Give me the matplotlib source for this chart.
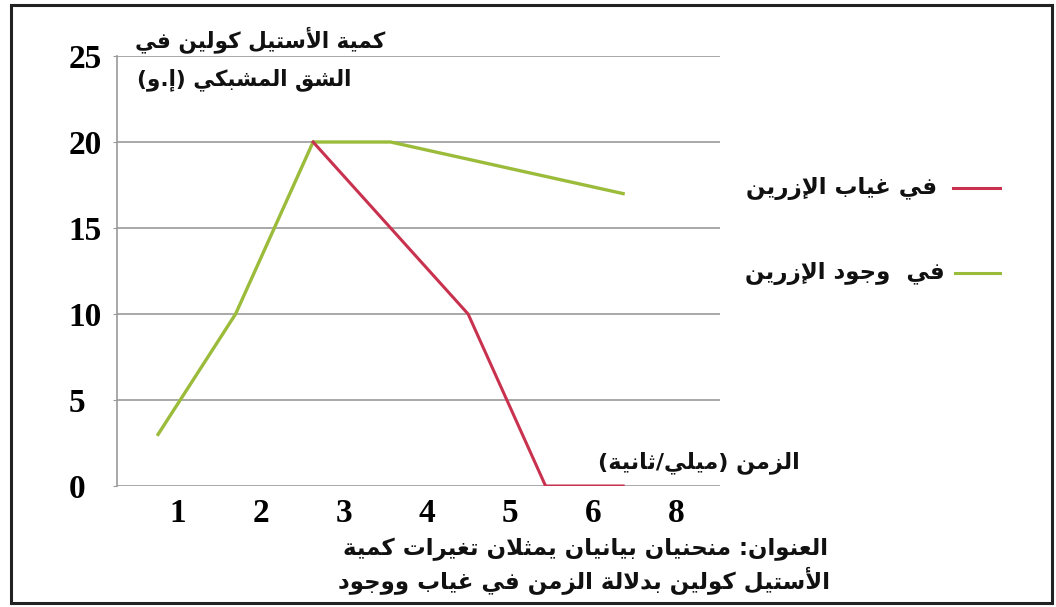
import matplotlib.pyplot as plt
from matplotlib.patches import Rectangle

# chart data
times = ['1', '2', '3', '4', '5', '6', '8']
with_ezrin = [3, 10, 20, 20, 19, 18, 17]      # green
without_ezrin = [None, None, 20, 15, 10, 0, 0]  # red

y_ticks = [0, 5, 10, 15, 20, 25]

ylabel_lines = ['كمية الأستيل كولين في', 'الشق المشبكي (إ.و)']
xlabel = 'الزمن (ميلي/ثانية)'
legend_red = 'في غياب الإزرين'
legend_green = 'في  وجود الإزرين'
caption_lines = ['العنوان: منحنيان بيانيان يمثلان تغيرات كمية',
                 'الأستيل كولين بدلالة الزمن في غياب ووجود']

red = '#c9324f'
green = '#9bbb3b'


# matplotlib has no arabic shaping, so pick presentation forms by hand
def _f(start, dual=True):
    if dual:
        return (start, start + 1, start + 2, start + 3)
    return (start, start + 1, None, None)

FORMS = {
    'آ': _f(0xFE81, False), 'أ': _f(0xFE83, False), 'ؤ': _f(0xFE85, False),
    'إ': _f(0xFE87, False), 'ئ': _f(0xFE89), 'ا': _f(0xFE8D, False),
    'ب': _f(0xFE8F), 'ة': _f(0xFE93, False), 'ت': _f(0xFE95), 'ث': _f(0xFE99),
    'ج': _f(0xFE9D), 'ح': _f(0xFEA1), 'خ': _f(0xFEA5), 'د': _f(0xFEA9, False),
    'ذ': _f(0xFEAB, False), 'ر': _f(0xFEAD, False), 'ز': _f(0xFEAF, False),
    'س': _f(0xFEB1), 'ش': _f(0xFEB5), 'ص': _f(0xFEB9), 'ض': _f(0xFEBD),
    'ط': _f(0xFEC1), 'ظ': _f(0xFEC5), 'ع': _f(0xFEC9), 'غ': _f(0xFECD),
    'ف': _f(0xFED1), 'ق': _f(0xFED5), 'ك': _f(0xFED9), 'ل': _f(0xFEDD),
    'م': _f(0xFEE1), 'ن': _f(0xFEE5), 'ه': _f(0xFEE9), 'و': _f(0xFEED, False),
    'ى': _f(0xFEEF, False), 'ي': _f(0xFEF1),
}
LAM_ALEF = {'آ': 0xFEF5, 'أ': 0xFEF7, 'إ': 0xFEF9, 'ا': 0xFEFB}


def ar(text):
    chars = []
    i = 0
    while i < len(text):
        c = text[i]
        if c == 'ل' and i + 1 < len(text) and text[i + 1] in LAM_ALEF:
            chars.append(('LA', text[i + 1]))
            i += 2
        else:
            chars.append((c, None))
            i += 1
    out = []
    for k, (c, a) in enumerate(chars):
        prev = chars[k - 1][0] if k > 0 else None
        nxt = chars[k + 1][0] if k + 1 < len(chars) else None
        joins_prev = prev in FORMS and FORMS[prev][2] is not None
        if c == 'LA':
            out.append(chr(LAM_ALEF[a] + (1 if joins_prev else 0)))
            continue
        if c not in FORMS:
            out.append(c)
            continue
        f = FORMS[c]
        joins_next = f[2] is not None and (nxt in FORMS or nxt == 'LA')
        if joins_prev and joins_next:
            out.append(chr(f[3]))
        elif joins_prev:
            out.append(chr(f[1]))
        elif joins_next:
            out.append(chr(f[2]))
        else:
            out.append(chr(f[0]))
    s = ''.join(out)[::-1]
    return s.translate(str.maketrans('()', ')('))


W, H = 1056, 607
fig = plt.figure(figsize=(W / 100, H / 100), dpi=100)
fig.patch.set_facecolor('white')

def fx(px):
    return px / W

def fy(py):
    return 1 - py / H

ax = fig.add_axes([fx(117), fy(486), fx(720) - fx(117), fy(56) - fy(486)])
xpos = list(range(len(times)))
ax.plot(xpos, with_ezrin, color=green, lw=2.4, solid_joinstyle='round', zorder=3)
ax.plot(xpos, [v if v is not None else float('nan') for v in without_ezrin],
        color=red, lw=2.2, solid_joinstyle='round', zorder=4)
ax.set_xlim(-0.53, 7.25)
ax.set_ylim(0, 25)

ax.set_yticks(y_ticks)
ax.set_yticklabels([str(v) for v in y_ticks], fontfamily='Liberation Serif',
                   fontweight='bold', fontsize=24, ha='left')
ax.tick_params(axis='y', length=3, color='#9a9a9a', pad=32)
ax.yaxis.grid(True, color='#9a9a9a', lw=1.2)
ax.set_axisbelow(True)
for s in ['top', 'right', 'bottom']:
    ax.spines[s].set_visible(False)
ax.spines['left'].set_color('#9a9a9a')
ax.spines['left'].set_linewidth(1.2)
ax.set_xticks([])

# category labels sit on their own scale, a bit wider than the points
ax2 = ax.twiny()
ax2.set_xlim(-0.735, 6.53)
ax2.xaxis.set_ticks_position('bottom')
ax2.set_xticks(xpos)
ax2.set_xticklabels(times, fontfamily='Liberation Serif', fontweight='bold', fontsize=24)
ax2.tick_params(axis='x', length=0, pad=9)
for s in ax2.spines.values():
    s.set_visible(False)

arfont = dict(family=['DejaVu Sans'], fontweight='bold', color='#111111')

fig.text(fx(135), fy(40), ar(ylabel_lines[0]), ha='left', va='center', fontsize=15.5, **arfont)
fig.text(fx(137), fy(80), ar(ylabel_lines[1]), ha='left', va='center', fontsize=15.5, **arfont)
fig.text(fx(800), fy(463), ar(xlabel), ha='right', va='center', fontsize=16, **arfont)
fig.text(fx(828), fy(549), ar(caption_lines[0]), ha='right', va='center', fontsize=16.5, **arfont)
fig.text(fx(830), fy(580), ar(caption_lines[1]), ha='right', va='center', fontsize=16.5, **arfont)

# legend drawn by hand, text to the left of the line
fig.add_artist(plt.Line2D([fx(953), fx(1000)], [fy(188), fy(188)], color=red, lw=2.2))
fig.add_artist(plt.Line2D([fx(955), fx(1000)], [fy(273), fy(273)], color=green, lw=2.2))
fig.text(fx(937), fy(188), ar(legend_red), ha='right', va='center', fontsize=16.5, **arfont)
fig.text(fx(945), fy(273), ar(legend_green), ha='right', va='center', fontsize=16.5, **arfont)

# outer frame
fig.add_artist(Rectangle((fx(11), fy(603)), fx(1052) - fx(11), fy(5) - fy(603),
                         fill=False, edgecolor='#222222', lw=2.2, transform=fig.transFigure))

fig.savefig('out.png', dpi=100)
